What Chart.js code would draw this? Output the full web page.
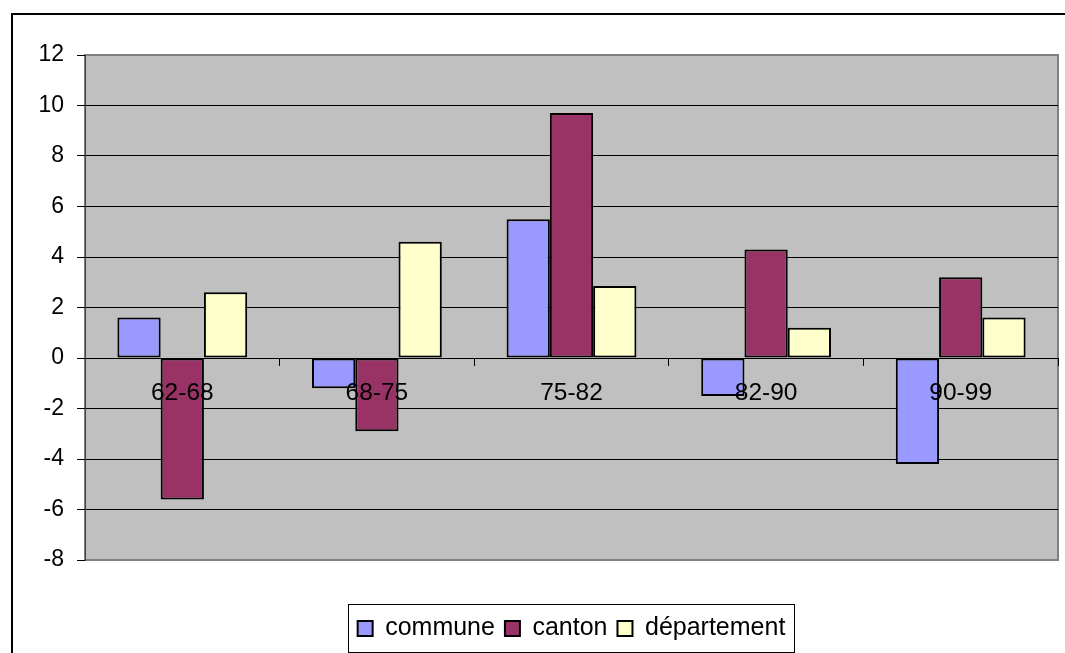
<!DOCTYPE html>
<html>
<head>
<meta charset="utf-8">
<script src="https://cdn.jsdelivr.net/npm/chart.js@4.4.1/dist/chart.umd.min.js"></script>
<style>
  html, body { margin: 0; padding: 0; background: #fff; }
</style>
</head>
<body>
<canvas id="chart" width="1065" height="653"></canvas>
<script>
// periods and growth rates per level
const periods = ['62-68', '68-75', '75-82', '82-90', '90-99'];
const commune = [1.6, -1.2, 5.5, -1.5, -4.2];
const canton = [-5.6, -2.9, 9.7, 4.3, 3.2];
const departement = [2.6, 4.6, 2.85, 1.2, 1.6];
const yMin = -8, yMax = 12, yStep = 2;

const FONT = "'Liberation Sans', Arial, sans-serif";

// grey plot area, outer frame and legend frame like the Excel original
const framePlugin = {
    id: 'frames',
    beforeDraw: (chart) => {
        const ctx = chart.ctx;
        const a = chart.chartArea;
        ctx.save();
        ctx.fillStyle = '#fff';
        ctx.fillRect(0, 0, chart.width, chart.height);
        ctx.fillStyle = '#c0c0c0';
        ctx.fillRect(a.left, a.top, a.right - a.left, a.bottom - a.top);
        ctx.strokeStyle = '#808080';
        ctx.lineWidth = 2;
        ctx.strokeRect(a.left, a.top, a.right - a.left, a.bottom - a.top);
        ctx.restore();
    },
    afterDraw: (chart) => {
        const ctx = chart.ctx;
        ctx.save();
        ctx.strokeStyle = '#000';
        ctx.lineWidth = 2;
        ctx.strokeRect(12, 14, 1200, 800);

        const hb = chart.legend.legendHitBoxes;
        if (hb && hb.length) {
            const last = hb[hb.length - 1];
            const l = Math.round(hb[0].left - 10);
            const r = Math.round(last.left + last.width + 9);
            const cy = Math.round(hb[0].top + hb[0].height / 2);
            ctx.lineWidth = 1;
            ctx.strokeRect(l + 0.5, cy - 25 + 0.5, r - l, 48);
        }
        ctx.restore();
    }
};

new Chart(document.getElementById('chart').getContext('2d'), {
    type: 'bar',
    data: {
        labels: periods,
        datasets: [
            { label: 'commune', data: commune, backgroundColor: '#9999ff' },
            { label: 'canton', data: canton, backgroundColor: '#993366' },
            { label: 'département', data: departement, backgroundColor: '#ffffcc' }
        ]
    },
    options: {
        responsive: false,
        animation: false,
        layout: { padding: { top: 55, right: 7, bottom: 2, left: 0 } },
        datasets: {
            bar: {
                borderColor: '#000',
                borderWidth: 2,
                borderSkipped: false,
                categoryPercentage: 0.667,
                barPercentage: 1
            }
        },
        plugins: {
            legend: {
                position: 'bottom',
                fullSize: false,
                title: { display: true, text: '', font: { size: 10 }, padding: { top: 34, bottom: 0 } },
                labels: {
                    font: { family: FONT, size: 25 },
                    color: '#000',
                    boxWidth: 15,
                    boxHeight: 15,
                    padding: 10
                }
            },
            tooltip: { enabled: false }
        },
        scales: {
            x: {
                position: { y: 0 },
                offset: true,
                grid: {
                    offset: true,
                    drawOnChartArea: false,
                    drawTicks: true,
                    tickLength: 7,
                    tickColor: '#000'
                },
                border: { display: true, color: '#000', width: 1 },
                ticks: {
                    z: 1, // category names sit on top of the bars
                    font: { family: FONT, size: 24.5 },
                    color: '#000',
                    padding: 14,
                    maxRotation: 0
                }
            },
            y: {
                min: yMin,
                max: yMax,
                afterFit: (scale) => { scale.width = 85; },
                grid: {
                    color: (c) => (c.tick && (c.tick.value === yMax || c.tick.value === yMin)) ? '#808080' : '#000',
                    lineWidth: 1,
                    tickLength: 8,
                    tickColor: '#000'
                },
                border: { display: true, color: '#404040', width: 1 },
                ticks: {
                    stepSize: yStep,
                    font: { family: FONT, size: 23 },
                    color: '#000',
                    padding: 13
                }
            }
        }
    },
    plugins: [framePlugin]
});
</script>
</body>
</html>
